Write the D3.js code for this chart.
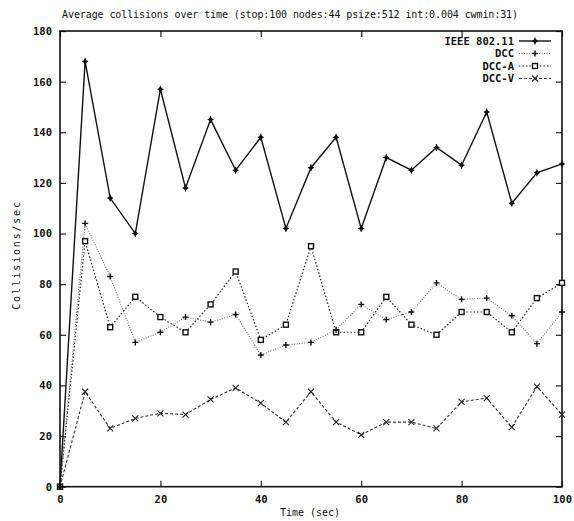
<!DOCTYPE html>
<html><head><meta charset="utf-8">
<script src="https://cdn.jsdelivr.net/npm/d3@7"></script>
<style>
body{margin:0;background:#fff;}
svg{display:block;}
text{font-family:"DejaVu Sans Mono","Liberation Mono",monospace;font-weight:bold;fill:#111;}
</style></head>
<body>
<svg id="chart" width="574" height="521"></svg>
<script>
const times = [0,5,10,15,20,25,30,35,40,45,50,55,60,65,70,75,80,85,90,95,100];
const ieee  = [0,168,114,100,157,118,145,125,138,102,126,138,102,130,125,134,127,148,112,124,127.5];
const dcc   = [0,104,83,57,61,67,65,68,52,56,57,62,72,66,69,80.5,74,74.5,67.5,56.5,69];
const dccA  = [0,97,63,75,67,61,72,85,58,64,95,61,61,75,64,60,69,69,61,74.5,80.5];
const dccV  = [0,37.5,23,27,29,28.5,34.5,39,33,25.5,37.5,25.5,20.5,25.5,25.5,23,33.5,35,23.5,39.5,28.5];
const seriesNames = ["IEEE 802.11","DCC","DCC-A","DCC-V"];
const xTicks = [0,20,40,60,80,100];
const yTicks = [0,20,40,60,80,100,120,140,160,180];
const titleText = "Average collisions over time (stop:100 nodes:44 psize:512 int:0.004 cwmin:31)";
const xLabel = "Time (sec)";
const yLabel = "Collisions/sec";

const svg = d3.select("#chart");
const x = d3.scaleLinear().domain([0,100]).range([60,562]);
const y = d3.scaleLinear().domain([0,180]).range([486.7,31]);

const styles = [
  {stroke:"#111", width:1.4, dash:null, marker:"diamond"},
  {stroke:"#777", width:1.1, dash:"1,1.5", marker:"plus"},
  {stroke:"#222", width:1.2, dash:"1.5,2", marker:"square"},
  {stroke:"#333", width:1.1, dash:"3,2", marker:"cross"}
];
const data = [ieee,dcc,dccA,dccV];

// title
svg.append("text").attr("x",290).attr("y",18).attr("text-anchor","middle")
  .style("font-size","10px").style("font-weight","normal").style("letter-spacing","-0.1px").text(titleText);

// axes
const fs = "10.5px";
const gx = svg.append("g").attr("transform",`translate(0,${y(0)})`)
  .call(d3.axisBottom(x).tickValues(xTicks).tickSizeInner(-6).tickSizeOuter(0).tickPadding(9));
const gy = svg.append("g").attr("transform",`translate(${x(0)},0)`)
  .call(d3.axisLeft(y).tickValues(yTicks).tickSizeInner(-6).tickSizeOuter(0).tickPadding(8));
const gt = svg.append("g").attr("transform",`translate(0,${y(180)})`)
  .call(d3.axisTop(x).tickValues(xTicks).tickSizeInner(-6).tickSizeOuter(0).tickFormat(""));
const gr = svg.append("g").attr("transform",`translate(${x(100)},0)`)
  .call(d3.axisRight(y).tickValues(yTicks).tickSizeInner(-6).tickSizeOuter(0).tickFormat(""));
[gx,gy,gt,gr].forEach(g=>{
  g.select(".domain").remove();
  g.selectAll("line").attr("stroke","#222").attr("stroke-width",1.2);
  g.selectAll("text").style("font-size",fs).style("font-family","DejaVu Sans Mono, monospace").attr("fill","#111");
});

// border
svg.append("rect").attr("x",x(0)).attr("y",y(180)).attr("width",x(100)-x(0)).attr("height",y(0)-y(180))
  .attr("fill","none").attr("stroke","#111").attr("stroke-width",1.6);

// axis labels
svg.append("text").attr("x",310).attr("y",516).attr("text-anchor","middle").style("font-size","10px").style("font-weight","normal").text(xLabel);
svg.append("text").attr("transform","translate(20,255) rotate(-90)").attr("text-anchor","middle")
  .style("font-size","10px").style("font-weight","normal").style("letter-spacing","1.8px").text(yLabel);

function drawMarker(g,type,cx,cy,color){
  if(type==="diamond"){
    g.append("path").attr("d",`M${cx},${cy-3}L${cx+2.5},${cy}L${cx},${cy+3}L${cx-2.5},${cy}Z`).attr("fill",color).attr("stroke","none");
    g.append("path").attr("d",`M${cx-3},${cy}H${cx+3}M${cx},${cy-3.5}V${cy+3.5}`).attr("stroke",color).attr("stroke-width",1);
  } else if(type==="plus"){
    g.append("path").attr("d",`M${cx-3},${cy}H${cx+3}M${cx},${cy-3}V${cy+3}`).attr("stroke","#111").attr("stroke-width",1.4);
  } else if(type==="square"){
    g.append("rect").attr("x",cx-2.5).attr("y",cy-2.5).attr("width",5).attr("height",5).attr("fill","#fff").attr("stroke","#111").attr("stroke-width",1.4);
  } else if(type==="cross"){
    g.append("path").attr("d",`M${cx-3},${cy-3}L${cx+3},${cy+3}M${cx+3},${cy-3}L${cx-3},${cy+3}`).attr("stroke","#222").attr("stroke-width",1.1);
  }
}

const line = d3.line().x((d,i)=>x(times[i])).y(d=>y(d));
[3,2,1,0].forEach(si=>{
  const st = styles[si];
  const g = svg.append("g");
  g.append("path").datum(data[si]).attr("d",line).attr("fill","none")
    .attr("stroke",st.stroke).attr("stroke-width",st.width).attr("stroke-dasharray",st.dash);
  data[si].forEach((v,i)=>drawMarker(g,st.marker,x(times[i]),y(v),"#111"));
});

// legend
const legY = [41,53.5,66,78.5];
seriesNames.forEach((name,i)=>{
  const st = styles[i];
  const g = svg.append("g");
  g.append("text").attr("x",514).attr("y",legY[i]).attr("dy","0.35em").attr("text-anchor","end").style("font-size",fs).text(name);
  g.append("line").attr("x1",519).attr("x2",551).attr("y1",legY[i]).attr("y2",legY[i])
    .attr("stroke",st.stroke).attr("stroke-width",st.width).attr("stroke-dasharray",st.dash);
  drawMarker(g,st.marker,535,legY[i],"#111");
});
</script>
</body></html>
